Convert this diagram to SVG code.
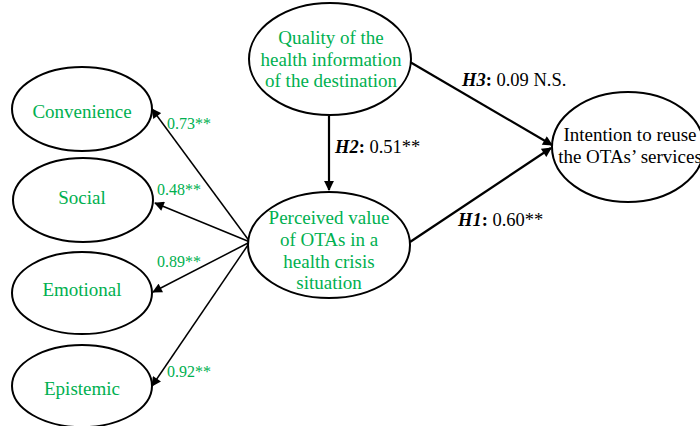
<svg xmlns="http://www.w3.org/2000/svg" width="700" height="426" viewBox="0 0 700 426">
<style>
.node{fill:#fff;stroke:#000;stroke-width:2}
.t{font-family:"Liberation Serif","Times New Roman",serif;font-size:19px;text-anchor:middle}
.g{fill:#00b050}
.k{fill:#000}
.lbl{font-family:"Liberation Serif","Times New Roman",serif;font-size:16px;fill:#00b050}
.hl{font-family:"Liberation Serif","Times New Roman",serif;font-size:18.5px;fill:#000}
.main{stroke:#000;stroke-width:2.2;fill:none;marker-end:url(#ah)}
.thin{stroke:#000;stroke-width:1.5;fill:none;marker-end:url(#ah2)}
</style>
<defs>
<marker id="ah" viewBox="0 0 10 10" refX="9" refY="5" markerWidth="5" markerHeight="4.5" markerUnits="strokeWidth" orient="auto">
<path d="M0,0 L10,5 L0,10 z" fill="#000"/>
</marker>
<marker id="ah2" viewBox="0 0 10 10" refX="9" refY="5" markerWidth="7.5" markerHeight="6.5" markerUnits="strokeWidth" orient="auto">
<path d="M0,0 L10,5 L0,10 z" fill="#000"/>
</marker>
</defs>
<rect width="700" height="426" fill="#fff"/>
<g id="connectors">
<line class="main" x1="329" y1="116" x2="329" y2="190"/>
<line class="main" x1="410" y1="62" x2="552" y2="145"/>
<line class="main" x1="410" y1="242" x2="551" y2="148"/>
<line class="thin" x1="250" y1="242" x2="152" y2="109"/>
<line class="thin" x1="250" y1="242" x2="155" y2="203"/>
<line class="thin" x1="250" y1="242" x2="153" y2="292"/>
<line class="thin" x1="250" y1="242" x2="152" y2="386"/>
</g>
<g id="quality">
<ellipse class="node" cx="330" cy="59" rx="81" ry="56"/>
<text class="t g" x="331" y="44">Quality of the</text>
<text class="t g" x="331" y="66">health information</text>
<text class="t g" x="331" y="87">of the destination</text>
</g>
<g id="perceived">
<ellipse class="node" cx="329" cy="245" rx="81" ry="53"/>
<text class="t g" x="329" y="224">Perceived value</text>
<text class="t g" x="329" y="246">of OTAs in a</text>
<text class="t g" x="329" y="268">health crisis</text>
<text class="t g" x="329" y="289">situation</text>
</g>
<g id="intention">
<ellipse class="node" cx="628" cy="147" rx="76" ry="55"/>
<text class="t k" x="630" y="141">Intention to reuse</text>
<text class="t k" x="630" y="163">the OTAs’ services</text>
</g>
<g id="convenience">
<ellipse class="node" cx="82" cy="109" rx="70" ry="42"/>
<text class="t g" x="82" y="118">Convenience</text>
</g>
<g id="social">
<ellipse class="node" cx="83" cy="200" rx="70" ry="42"/>
<text class="t g" x="82" y="204">Social</text>
</g>
<g id="emotional">
<ellipse class="node" cx="82" cy="293" rx="70" ry="41"/>
<text class="t g" x="82" y="296">Emotional</text>
</g>
<g id="epistemic">
<ellipse class="node" cx="82" cy="386" rx="70" ry="41"/>
<text class="t g" x="82" y="395">Epistemic</text>
</g>
<g id="labels">
<text class="lbl" x="167" y="129">0.73**</text>
<text class="lbl" x="157" y="195">0.48**</text>
<text class="lbl" x="157" y="267">0.89**</text>
<text class="lbl" x="167" y="377">0.92**</text>
<text class="hl" x="462" y="86"><tspan font-weight="bold" font-style="italic">H3</tspan><tspan font-weight="bold">:</tspan> 0.09 N.S.</text>
<text class="hl" x="335" y="153"><tspan font-weight="bold" font-style="italic">H2</tspan><tspan font-weight="bold">:</tspan> 0.51**</text>
<text class="hl" x="458" y="226"><tspan font-weight="bold" font-style="italic">H1</tspan><tspan font-weight="bold">:</tspan> 0.60**</text>
</g>
</svg>
